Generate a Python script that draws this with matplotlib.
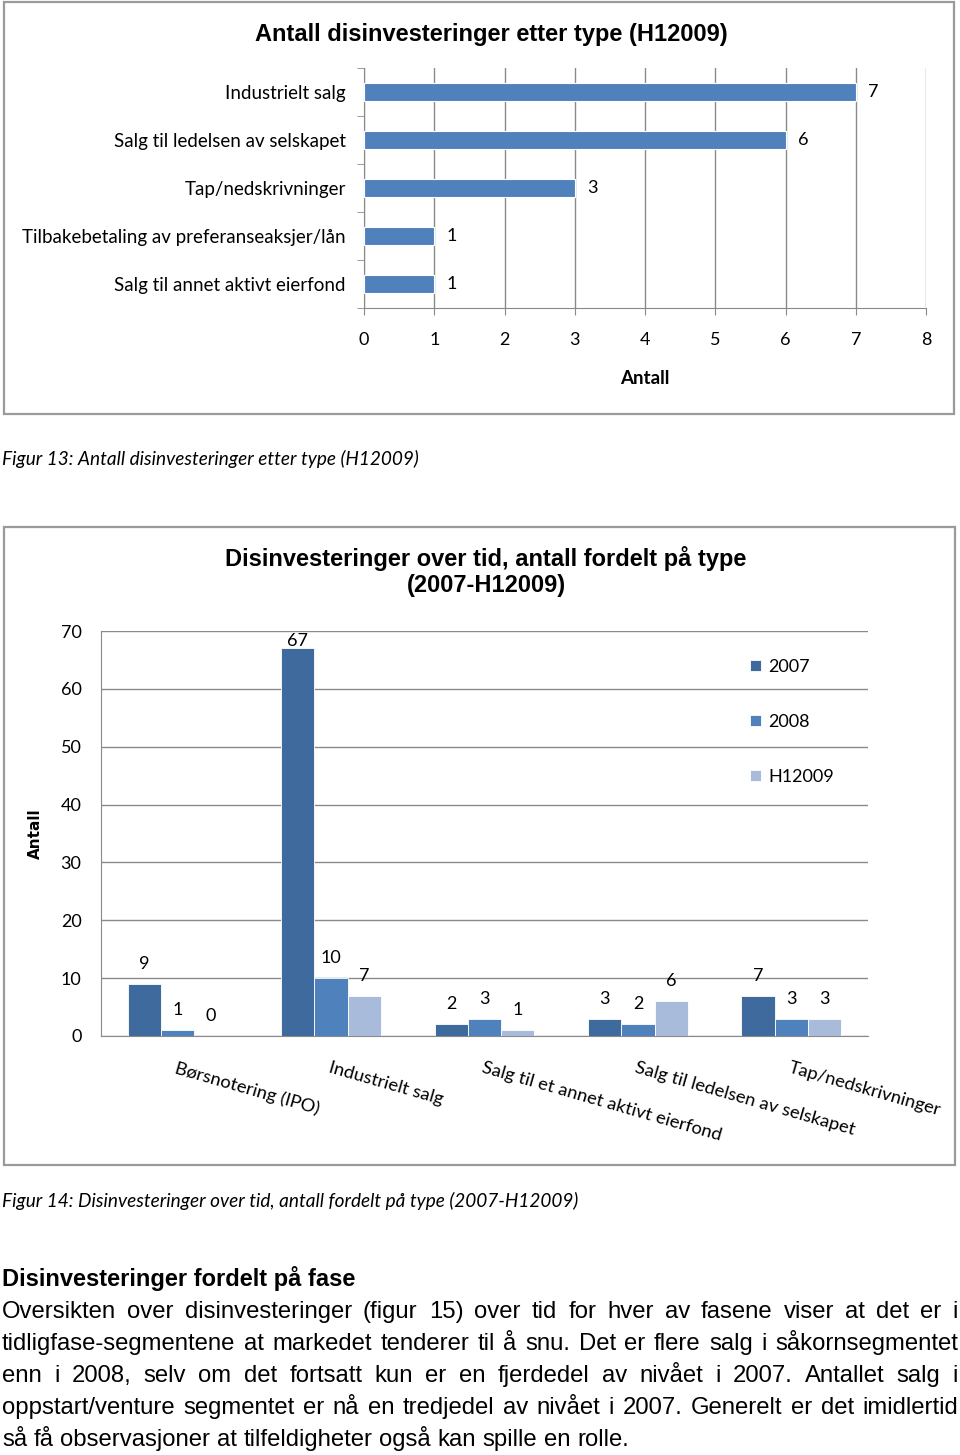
import matplotlib
matplotlib.use("Agg")
import matplotlib.pyplot as plt
from matplotlib.patches import Rectangle
import numpy as np

W, H = 960, 1455

# Figur 13 data
types_h1 = ["Industrielt salg", "Salg til ledelsen av selskapet", "Tap/nedskrivninger",
            "Tilbakebetaling av preferanseaksjer/lån", "Salg til annet aktivt eierfond"]
count_h1 = [7, 6, 3, 1, 1]

# Figur 14 data
types_all = ["Børsnotering (IPO)", "Industrielt salg", "Salg til et annet aktivt eierfond",
             "Salg til ledelsen av selskapet", "Tap/nedskrivninger"]
periods = ["2007", "2008", "H12009"]
count_2007 = [9, 67, 2, 3, 7]
count_2008 = [1, 10, 3, 2, 3]
count_h12009 = [0, 7, 1, 6, 3]

heading = "Disinvesteringer fordelt på fase"
body_lines = [
    "Oversikten over disinvesteringer (figur 15) over tid for hver av fasene viser at det er i",
    "tidligfase-segmentene at markedet tenderer til å snu. Det er flere salg i såkornsegmentet",
    "enn i 2008, selv om det fortsatt kun er en fjerdedel av nivået i 2007. Antallet salg i",
    "oppstart/venture segmentet er nå en tredjedel av nivået i 2007. Generelt er det imidlertid",
    "så få observasjoner at tilfeldigheter også kan spille en rolle.",
]

CAL = "Lato"
ARIAL = "Liberation Sans"
GRID = "#8a8a8a"
C2007, C2008, CH1 = "#3f6a9e", "#4f81bd", "#a9bbda"

fig = plt.figure(figsize=(W / 100, H / 100), dpi=100)


def px_axes(left, top, right, bottom):
    return fig.add_axes([left / W, 1 - bottom / H, (right - left) / W, (bottom - top) / H])


def fy(y):
    return 1 - y / H


# frames around the two charts
for (x0, y0, x1, y1) in [(4, 2, 954, 414), (4, 527, 955, 1165)]:
    fig.add_artist(Rectangle((x0 / W, fy(y1)), (x1 - x0) / W, (y1 - y0) / H,
                             transform=fig.transFigure, fill=False, ec="#9a9a9a", lw=1.6))

# ---- Figur 13 ----
fig.text(491 / W, fy(35), "Antall disinvesteringer etter type (H12009)", ha="center", va="center",
         family=ARIAL, fontweight="bold", fontsize=17)

ax1 = px_axes(364, 68, 926, 308)
y = np.arange(len(types_h1))
ax1.barh(y, count_h1, height=0.36, color=C2008, edgecolor="white", lw=0.8, zorder=3)
ax1.set_xlim(0, 8)
ax1.set_ylim(len(types_h1) - 0.5, -0.5)
ax1.set_xticks(range(9))
ax1.set_yticks(y, types_h1)
ax1.set_yticks(np.arange(-0.5, len(types_h1)), minor=True)
ax1.grid(axis="x", color=GRID, lw=1, zorder=0)
ax1.tick_params(axis="y", which="major", length=0, pad=13, labelsize=13.5)
ax1.tick_params(axis="y", which="minor", length=5, color=GRID)
ax1.tick_params(axis="x", length=5, color=GRID, pad=12, labelsize=13)
for lab in ax1.get_xticklabels() + ax1.get_yticklabels():
    lab.set_family(CAL)
for s in ["top", "right"]:
    ax1.spines[s].set_visible(False)
for s in ["left", "bottom"]:
    ax1.spines[s].set_color(GRID)
for yi, v in zip(y, count_h1):
    ax1.annotate(str(v), (v, yi), xytext=(9, 0), textcoords="offset points",
                 ha="left", va="center", family=CAL, fontsize=13)
ax1.set_xlabel("Antall", family=CAL, fontweight="bold", fontsize=13.5, va="center")
ax1.xaxis.set_label_coords(0.5, -(378 - 308) / 240)

fig.text(2 / W, fy(459), "Figur 13: Antall disinvesteringer etter type (H12009)", ha="left",
         va="center", family=CAL, style="italic", fontsize=13.7)

# ---- Figur 14 ----
fig.text(486 / W, fy(571.5), "Disinvesteringer over tid, antall fordelt på type\n(2007-H12009)",
         ha="center", va="center", family=ARIAL, fontweight="bold", fontsize=17, linespacing=1.12)

ax2 = px_axes(101, 631, 868, 1036)
x = np.arange(len(types_all))
bw = 0.217
for i, (vals, col) in enumerate(zip([count_2007, count_2008, count_h12009], [C2007, C2008, CH1])):
    xs = x + (i - 1) * bw
    ax2.bar(xs, vals, bw, color=col, edgecolor="white", lw=0.6, label=periods[i], zorder=3)
    for xi, v in zip(xs, vals):
        ax2.text(xi, min(v + 3.45, 68.3), str(v), ha="center", va="center",
                 family=CAL, fontsize=13, zorder=4)
ax2.set_xlim(-0.5, len(types_all) - 0.5)
ax2.set_ylim(0, 70)
ax2.set_yticks(range(0, 71, 10))
ax2.grid(axis="y", color=GRID, lw=1, zorder=0)
ax2.tick_params(axis="y", length=0, pad=14, labelsize=13)
ax2.set_xticks(x, types_all)
ax2.tick_params(axis="x", length=0, pad=17, labelsize=13.2)
for lab in ax2.get_xticklabels():
    lab.set_rotation(-16)
    lab.set_ha("left")
    lab.set_rotation_mode("anchor")
for lab in ax2.get_xticklabels() + ax2.get_yticklabels():
    lab.set_family(CAL)
for s in ["top", "right"]:
    ax2.spines[s].set_visible(False)
for s in ["left", "bottom"]:
    ax2.spines[s].set_color(GRID)
ax2.set_ylabel("Antall", family="DejaVu Sans", fontweight="bold", fontsize=11, va="center")
ax2.yaxis.set_label_coords(-(101 - 35) / 767, 0.5)
ax2.legend(loc="upper left", bbox_to_anchor=((750 - 101) / 767, 1 - (659 - 631) / 405),
           frameon=False, handlelength=0.6, handleheight=0.6, handletextpad=0.4,
           labelspacing=2.15, borderpad=0, borderaxespad=0, prop={"family": CAL, "size": 13})

fig.text(2 / W, fy(1201), "Figur 14: Disinvesteringer over tid, antall fordelt på type (2007-H12009)",
         ha="left", va="center", family=CAL, style="italic", fontsize=13.7)

# ---- text below ----
fig.text(2 / W, fy(1286), heading, ha="left", va="baseline", family=ARIAL, fontweight="bold",
         fontsize=17)

renderer = fig.canvas.get_renderer()
x0, x1 = 2, 958
fs = 17.2
for k, line in enumerate(body_lines):
    yy = fy(1318 + 32 * k)
    words = line.split(" ")
    texts = [fig.text(0, yy, w, ha="left", va="baseline", family=ARIAL, fontsize=fs) for w in words]
    widths = [t.get_window_extent(renderer).width for t in texts]
    if k < len(body_lines) - 1:
        gap = (x1 - x0 - sum(widths)) / (len(words) - 1)
    else:
        gap = 0.278 * fs * 100 / 72
    pos = x0
    for t, wd in zip(texts, widths):
        t.set_x(pos / W)
        pos += wd + gap

fig.savefig("out.png", dpi=100)
